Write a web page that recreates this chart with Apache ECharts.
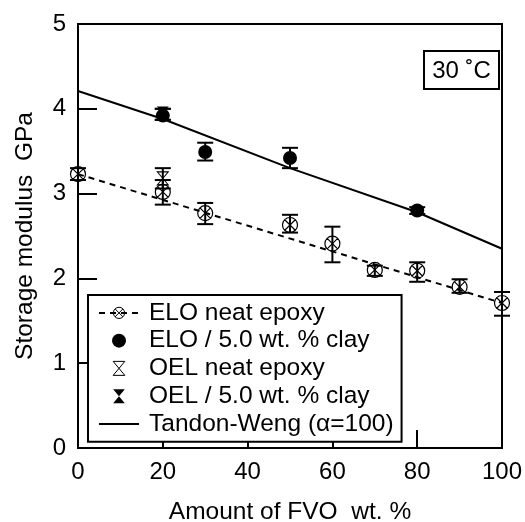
<!DOCTYPE html>
<html>
<head>
<meta charset="utf-8">
<script src="https://cdn.jsdelivr.net/npm/echarts@6/dist/echarts.min.js"></script>
<style>
  html, body { margin: 0; padding: 0; background: #fff; }
  #chart { width: 525px; height: 522px; }
</style>
</head>
<body>
<div id="chart"></div>
<script>
  // ELO neat epoxy (open circle with x) + error bars
  var eloNeatX = [0, 20, 30, 50, 60, 70, 80, 90, 100]
  var eloNeatY = [3.23, 3.02, 2.77, 2.63, 2.41, 2.10, 2.09, 1.90, 1.71]
  var eloNeatLo = [3.16, 2.87, 2.64, 2.54, 2.19, 2.03, 1.96, 1.83, 1.56]
  var eloNeatHi = [3.30, 3.16, 2.89, 2.75, 2.61, 2.15, 2.19, 1.99, 1.84]

  // ELO / 5.0 wt. % clay (filled circle)
  var eloClayX = [20, 30, 50, 80]
  var eloClayY = [3.92, 3.49, 3.42, 2.80]
  var eloClayLo = [3.87, 3.39, 3.30, 2.76]
  var eloClayHi = [4.00, 3.60, 3.54, 2.84]

  // OEL neat epoxy (open hourglass)
  var oelNeatX = [20]
  var oelNeatY = [3.18]
  var oelNeatLo = [3.06]
  var oelNeatHi = [3.30]

  // OEL / 5.0 wt. % clay (filled hourglass)
  var oelClayX = [20]
  var oelClayY = [3.95]
  var oelClayLo = [3.87]
  var oelClayHi = [4.00]

  // dashed fit through ELO neat, Tandon-Weng prediction
  var fitX = [0, 100]
  var fitY = [3.23, 1.71]
  var twX = [0, 20, 50, 80, 100]
  var twY = [4.21, 3.88, 3.30, 2.78, 2.35]

  var xTicks = [0, 20, 40, 60, 80, 100]
  var yTicks = [0, 1, 2, 3, 4, 5]

  var FONT = '"Liberation Sans", Arial, sans-serif'
  var symCircleX = 'path://M10,0 A10,10 0 1,1 9.99,0 Z M3,3 L17,17 M17,3 L3,17'
  var symHourglass = 'path://M0,0 L10,0 L0,12 L10,12 Z'

  function pairs(xs, ys) {
    return xs.map(function (x, i) { return [x, ys[i]] })
  }
  function errData(xs, lo, hi) {
    return xs.map(function (x, i) { return [x, lo[i], hi[i]] })
  }

  function renderErr(params, api) {
    var x = api.value(0)
    var lo = api.coord([x, api.value(1)])
    var hi = api.coord([x, api.value(2)])
    var w = 8
    var st = {stroke: '#000', lineWidth: 2}
    return {
      type: 'group',
      children: [
        {type: 'line', shape: {x1: lo[0], y1: lo[1], x2: hi[0], y2: hi[1]}, style: st},
        {type: 'line', shape: {x1: lo[0] - w, y1: lo[1], x2: lo[0] + w, y2: lo[1]}, style: st},
        {type: 'line', shape: {x1: hi[0] - w, y1: hi[1], x2: hi[0] + w, y2: hi[1]}, style: st}
      ]
    }
  }

  function errSeries(xs, lo, hi) {
    return {
      type: 'custom',
      renderItem: renderErr,
      encode: {x: 0, y: [1, 2]},
      data: errData(xs, lo, hi),
      z: 3,
      silent: true
    }
  }

  var chart = echarts.init(document.getElementById('chart'))

  chart.setOption({
    animation: false,
    textStyle: {fontFamily: FONT, color: '#000'},
    grid: {
      left: 78, top: 24, right: 23, bottom: 74,
      outerBoundsMode: 'none',
      containLabel: false,
      show: true, borderColor: '#000', borderWidth: 2
    },
    legend: {
      left: 88, top: 295,
      orient: 'vertical',
      padding: [4, 8, 4, 10],
      itemWidth: 40,
      itemHeight: 14,
      itemGap: 0,
      borderColor: '#000',
      borderWidth: 2,
      backgroundColor: '#fff',
      itemStyle: {borderWidth: 1},
      textStyle: {fontFamily: FONT, fontSize: 24.5, color: '#000', lineHeight: 27.75, padding: [0, 0, 0, 5]},
      data: [
        'ELO neat epoxy',
        'ELO / 5.0 wt. % clay',
        'OEL neat epoxy',
        'OEL / 5.0 wt. % clay',
        {name: 'Tandon-Weng (α=100)', itemStyle: {opacity: 0}}
      ]
    },
    xAxis: {
      type: 'value', min: 0, max: 100, interval: 20,
      name: 'Amount of FVO  wt. %',
      nameLocation: 'middle', nameGap: 52,
      nameTextStyle: {fontFamily: FONT, fontSize: 24.5, color: '#000'},
      axisLine: {lineStyle: {color: '#000', width: 2}},
      axisTick: {inside: true, length: 18, lineStyle: {color: '#000', width: 2}},
      axisLabel: {fontFamily: FONT, fontSize: 24, color: '#000', margin: 12},
      splitLine: {show: false}
    },
    yAxis: {
      type: 'value', min: 0, max: 5, interval: 1,
      name: 'Storage modulus  GPa',
      nameLocation: 'middle', nameGap: 40,
      nameTextStyle: {fontFamily: FONT, fontSize: 24.5, color: '#000'},
      axisLine: {lineStyle: {color: '#000', width: 2}},
      axisTick: {inside: true, length: 19, lineStyle: {color: '#000', width: 2}},
      axisLabel: {fontFamily: FONT, fontSize: 24, color: '#000', margin: 12},
      splitLine: {show: false}
    },
    graphic: [
      {
        type: 'group', left: 423, top: 50,
        children: [
          {type: 'rect', shape: {x: 0, y: 0, width: 75, height: 38},
            style: {fill: '#fff', stroke: '#000', lineWidth: 2}},
          {type: 'text', x: 37.5, y: 20,
            style: {text: '30 ˚C', font: '24px ' + FONT, fill: '#000', align: 'center', verticalAlign: 'middle'}}
        ]
      }
    ],
    series: [
      {
        name: 'ELO neat epoxy',
        type: 'line',
        data: pairs(fitX, fitY),
        showSymbol: false,
        symbol: symCircleX,
        itemStyle: {color: 'rgba(255,255,255,0)', borderColor: '#000', borderWidth: 1},
        lineStyle: {color: '#000', width: 2, type: [6, 5]},
        z: 2
      },
      {
        name: 'Tandon-Weng (α=100)',
        type: 'line',
        data: pairs(twX, twY),
        showSymbol: false,
        symbol: 'circle',
        itemStyle: {color: '#000'},
        lineStyle: {color: '#000', width: 2},
        z: 2
      },
      errSeries(eloNeatX, eloNeatLo, eloNeatHi),
      errSeries(eloClayX, eloClayLo, eloClayHi),
      errSeries(oelNeatX, oelNeatLo, oelNeatHi),
      errSeries(oelClayX, oelClayLo, oelClayHi),
      {
        name: 'ELO neat epoxy',
        type: 'scatter',
        data: pairs(eloNeatX, eloNeatY),
        symbol: symCircleX,
        symbolSize: 15,
        itemStyle: {color: 'rgba(255,255,255,0)', borderColor: '#000', borderWidth: 1.2, opacity: 1},
        z: 4
      },
      {
        name: 'ELO / 5.0 wt. % clay',
        type: 'scatter',
        data: pairs(eloClayX, eloClayY),
        symbol: 'circle',
        symbolSize: 14,
        itemStyle: {color: '#000', opacity: 1},
        z: 4
      },
      {
        name: 'OEL neat epoxy',
        type: 'scatter',
        data: pairs(oelNeatX, oelNeatY),
        symbol: symHourglass,
        symbolSize: [11, 13],
        itemStyle: {color: 'rgba(255,255,255,0)', borderColor: '#000', borderWidth: 1, opacity: 1},
        z: 4
      },
      {
        name: 'OEL / 5.0 wt. % clay',
        type: 'scatter',
        data: pairs(oelClayX, oelClayY),
        symbol: symHourglass,
        symbolSize: [12, 13],
        itemStyle: {color: '#000', opacity: 1},
        z: 4
      }
    ]
  })
</script>
</body>
</html>
